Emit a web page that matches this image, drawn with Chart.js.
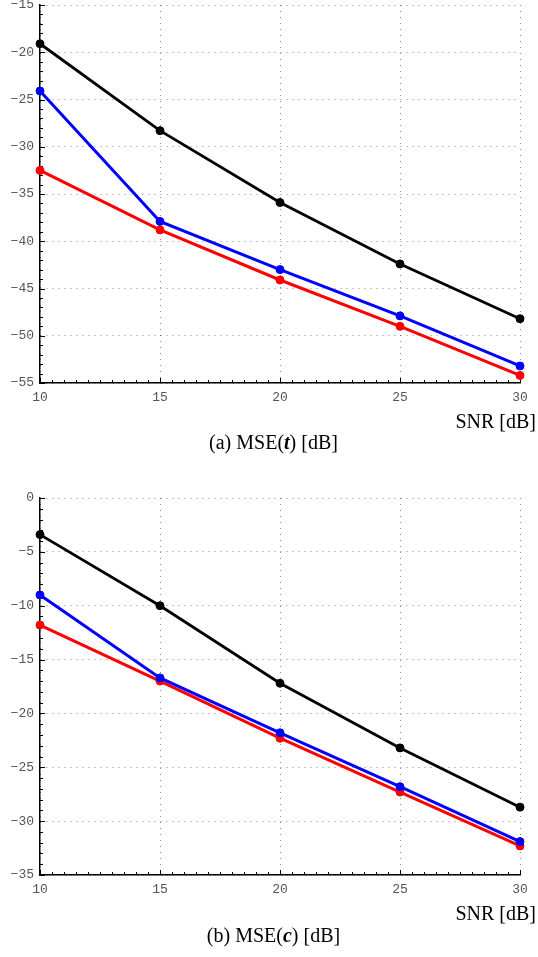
<!DOCTYPE html>
<html>
<head>
<meta charset="utf-8">
<script src="https://cdn.jsdelivr.net/npm/chart.js@4.4.1/dist/chart.umd.min.js"></script>
<style>
  html, body {margin: 0; padding: 0; background: #fff;}
  #wrap {position: relative; width: 538px; height: 957px; overflow: hidden;}
  canvas {position: absolute; left: 0;}
  .xlab {position: absolute; right: 2px; font: 20px "Liberation Serif", serif; line-height: 20px; color: #000; white-space: nowrap;}
  .cap {position: absolute; left: 9px; width: 529px; text-align: center; font: 20px "Liberation Serif", serif; line-height: 20px; color: #000;}
</style>
</head>
<body>
<div id="wrap">
  <canvas id="chartT" width="538" height="460" style="top:0px"></canvas>
  <div class="xlab" style="top:411px">SNR [dB]</div>
  <div class="cap" style="top:432px">(a) MSE(<b><i>t</i></b>) [dB]</div>

  <canvas id="chartC" width="538" height="497" style="top:460px"></canvas>
  <div class="xlab" style="top:903px">SNR [dB]</div>
  <div class="cap" style="top:925px">(b) MSE(<b><i>c</i></b>) [dB]</div>
</div>

<script>
// x values (SNR in dB)
const snr = [10, 15, 20, 25, 30];

// (a) MSE(t) [dB]
const mseT_black = [-19.1, -28.3, -35.9, -42.4, -48.2];
const mseT_blue  = [-24.1, -37.9, -43.0, -47.9, -53.2];
const mseT_red   = [-32.5, -38.8, -44.1, -49.0, -54.2];
const yRangeT = [-55, -15];

// (b) MSE(c) [dB]
const mseC_black = [-3.4, -10.0, -17.2, -23.2, -28.7];
const mseC_blue  = [-9.0, -16.7, -21.8, -26.8, -31.9];
const mseC_red   = [-11.8, -17.0, -22.3, -27.3, -32.3];
const yRangeC = [-35, 0];

const tickFont = {family: '"Liberation Mono", "DejaVu Sans Mono", monospace', size: 13};
const tickColor = '#555';
const gridColor = 'rgba(0,0,0,0.45)';

// small inward tick marks on the left and bottom axes
const minorTicks = {
	id: 'minorTicks',
	beforeDatasetsDraw(chart) {
		const ctx = chart.ctx;
		const x = chart.scales.x;
		const y = chart.scales.y;
		const area = chart.chartArea;
		ctx.save();
		ctx.strokeStyle = '#000';
		ctx.lineWidth = 1;
		ctx.beginPath();
		for (let v = y.min; v <= y.max; v += 1) {
			const py = Math.round(y.getPixelForValue(v)) + 0.5;
			const len = (v % 5 === 0) ? 5 : 3;
			ctx.moveTo(area.left, py);
			ctx.lineTo(area.left + len, py);
		}
		for (let v = x.min; v <= x.max; v += 0.5) {
			const px = Math.round(x.getPixelForValue(v)) + 0.5;
			const len = (v % 5 === 0) ? 5 : 3;
			ctx.moveTo(px, area.bottom);
			ctx.lineTo(px, area.bottom - len);
		}
		ctx.stroke();
		ctx.restore();
	}
};

function toPoints(values) {
	return snr.map((s, i) => ({x: s, y: values[i]}));
}

function makeChart(id, black, blue, red, yRange, padTop, xHeight) {
	const ctx = document.getElementById(id).getContext('2d');
	const line = (vals, color, width) => ({
		data: toPoints(vals),
		borderColor: color,
		backgroundColor: color,
		borderWidth: width,
		pointRadius: 4,
		pointBorderWidth: 1,
		pointBackgroundColor: color,
		pointBorderColor: color,
		tension: 0,
		clip: false
	});
	return new Chart(ctx, {
		type: 'line',
		data: {
			datasets: [
				line(black, '#000000', 2.8),
				line(blue, '#0000ff', 3),
				line(red, '#ff0000', 3)
			]
		},
		options: {
			responsive: false,
			animation: false,
			devicePixelRatio: 1,
			layout: {padding: {top: padTop, right: 18, left: 0, bottom: 0}},
			plugins: {legend: {display: false}, tooltip: {enabled: false}},
			scales: {
				x: {
					type: 'linear',
					min: 10,
					max: 30,
					ticks: {stepSize: 5, font: tickFont, color: tickColor, padding: 7, maxRotation: 0},
					grid: {color: gridColor, lineWidth: 1, drawTicks: false},
					border: {display: true, color: '#000', width: 1.5, dash: [1, 5]},
					afterFit(scale) {
						scale.height = xHeight;
						scale.paddingLeft = 0;
						scale.paddingRight = 0;
					}
				},
				y: {
					min: yRange[0],
					max: yRange[1],
					ticks: {
						stepSize: 5,
						font: tickFont,
						color: tickColor,
						padding: 6,
						callback: (v) => String(v).replace('-', '\u2212')
					},
					grid: {color: gridColor, lineWidth: 1, drawTicks: false},
					border: {display: true, color: '#000', width: 1.5, dash: [1, 5]},
					afterFit(scale) {
						scale.width = 40;
						scale.paddingTop = 0;
						scale.paddingBottom = 0;
					}
				}
			}
		},
		plugins: [minorTicks]
	});
}

makeChart('chartT', mseT_black, mseT_blue, mseT_red, yRangeT, 5, 77);
makeChart('chartC', mseC_black, mseC_blue, mseC_red, yRangeC, 38, 82);
</script>
</body>
</html>
